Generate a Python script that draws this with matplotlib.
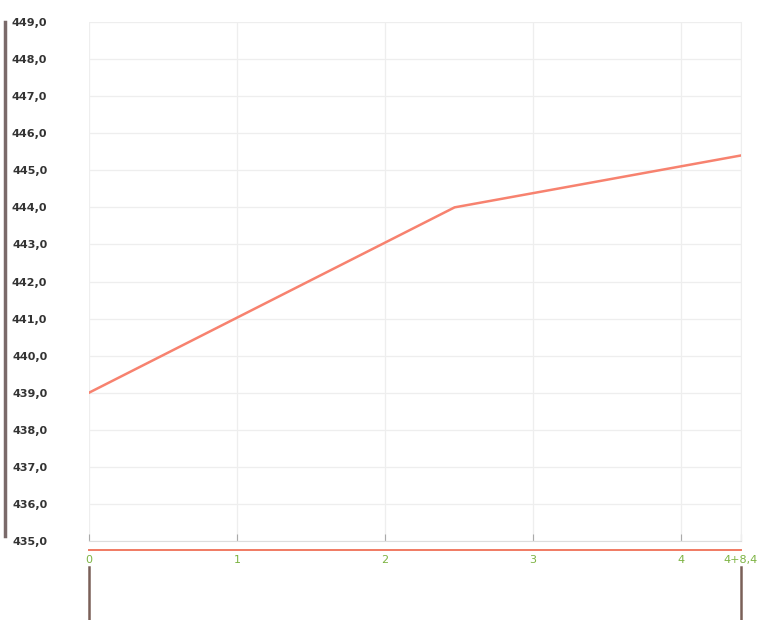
import matplotlib.pyplot as plt
from matplotlib.lines import Line2D

# profile data
stations = [0, 2.47, 4.405]
elevations = [439.0, 444.0, 445.4]
base_x = [0, 4.405]
base_y = [434.75, 434.75]
yticks = list(range(435, 450))
ytick_labels = ['%d,0' % v for v in yticks]
xticks = [0, 1, 2, 3, 4, 4.405]
xtick_labels = ['0', '1', '2', '3', '4', '4+8,4']

fig = plt.figure(figsize=(7.57, 6.2), dpi=100)
ax = fig.add_axes([89/757, 1 - 541/620, (741-89)/757, (541-22)/620])

ax.plot(stations, elevations, color='#f7826f', lw=1.8, zorder=3)
ax.plot(base_x, base_y, color='#f07a62', lw=1.4, clip_on=False, zorder=3)

ax.set_xlim(0, 4.405)
ax.set_ylim(435, 449)
ax.set_yticks(yticks)
ax.set_yticklabels(ytick_labels, fontsize=8, fontweight='bold', color='#333333')
ax.set_xticks(xticks)
ax.set_xticklabels(xtick_labels, fontsize=8, color='#7cb342')
ax.tick_params(axis='y', length=0, pad=30)
ax.tick_params(axis='x', length=5, color='#aaaaaa', pad=10, direction='in')
ax.grid(True, color='#eeeeee', lw=0.9)
for s in ['top', 'right', 'left']:
    ax.spines[s].set_visible(False)
ax.spines['bottom'].set_color('#dddddd')
ax.spines['right'].set_visible(True)
ax.spines['right'].set_color('#eeeeee')

# decorations outside the plot
fig.add_artist(Line2D([5/757, 5/757], [1 - 22/620, 1 - 536/620], color='#7a6a6a', lw=2.5))
for xv in base_x:
    ax.plot([xv, xv], [434.3, 432.8], color='#7a6058', lw=1.8, clip_on=False)

fig.savefig('out.png', dpi=100)
